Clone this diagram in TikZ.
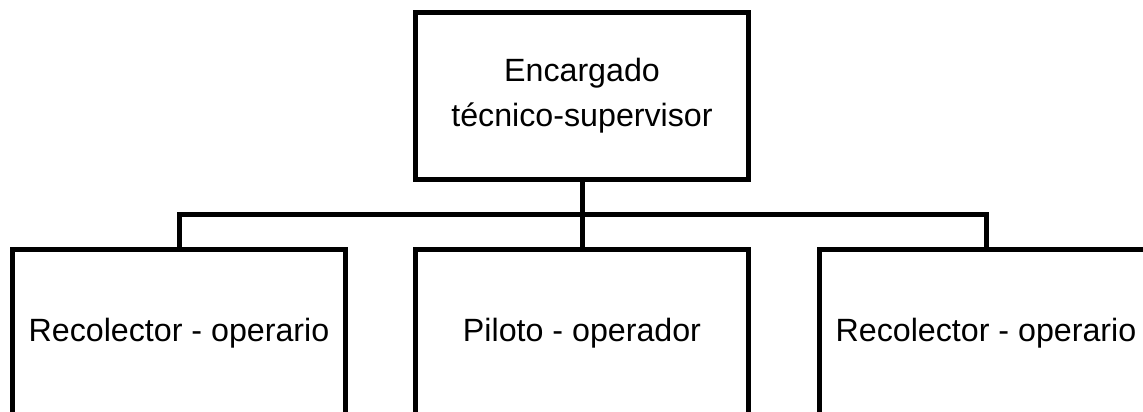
\documentclass[tikz,border=0pt]{standalone}
\usepackage{fontspec}
\setmainfont{Liberation Sans}
\begin{document}
\begin{tikzpicture}[x=1pt,y=1pt,
  box/.style={draw, line width=5pt, minimum width=333pt, minimum height=167pt, inner sep=0pt, align=center,
    font=\fontsize{32.2}{45}\selectfont},
  wire/.style={line width=5pt}]
\useasboundingbox (0,0) rectangle (1143,-412);
\clip (0,0) rectangle (1143,-412);
\node[box] (top) at (582,-96) {Encargado\\técnico-supervisor};
\node[box] (l) at (179,-333) {Recolector - operario};
\node[box] (m) at (582,-333) {Piloto - operador};
\node[box] (r) at (986,-333) {Recolector - operario};
\coordinate (bus) at (582,-214.5);
\draw[wire] (top.south) -- (m.north);
\draw[wire] (l.north) -- (l.north |- bus) -- (r.north |- bus) -- (r.north);
\end{tikzpicture}
\end{document}
